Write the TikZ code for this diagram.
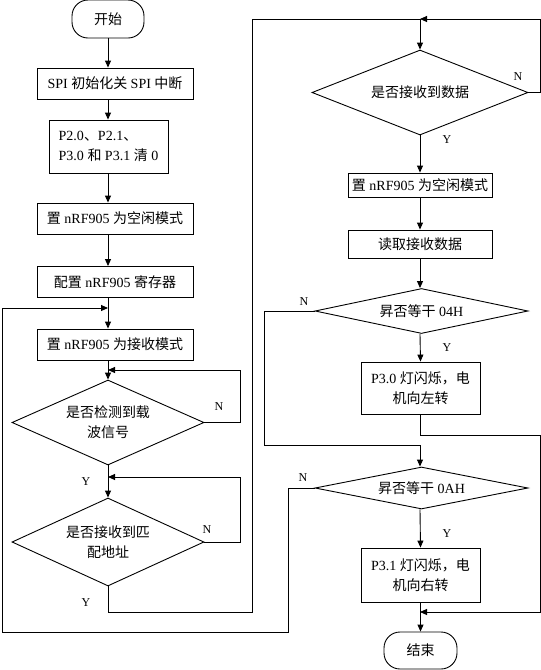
\documentclass[tikz,border=0pt]{standalone}
\usepackage{fontspec}
\setmainfont{Liberation Serif}
\newfontfamily\cjk{Noto Sans CJK SC}
\newcommand{\zh}[1]{{\cjk #1}}
\usetikzlibrary{shapes.geometric,arrows.meta}
\begin{document}
\begin{tikzpicture}[x=1pt,y=-1pt,
  line width=0.9pt,
  every node/.style={font=\fontsize{14}{20}\selectfont},
  arr/.style={-{Triangle[length=7pt,width=6pt]}},
  term/.style={draw,rounded corners=16pt,minimum width=72pt,minimum height=38pt,inner sep=0pt},
  proc/.style={draw,minimum width=156pt,minimum height=31pt,inner sep=0pt,align=center},
  dec/.style={draw,diamond,inner sep=0pt,align=center},
  lbl/.style={font=\fontsize{12}{14}\selectfont,inner sep=0pt}]
\fill[white] (0,0) rectangle (541,670);
\useasboundingbox (0,0) rectangle (541,670);

% left column
\node[term] (start) at (108,19) {\zh{开始}};
\node[proc] (b1) at (115,83.5) {SPI \zh{初始化关} SPI \zh{中断}};
\node[proc,minimum width=119pt,minimum height=53pt,align=left] (b2) at (108.5,146.5) {P2.0\zh{、}P2.1\zh{、}\\P3.0 \zh{和} P3.1 \zh{清} 0};
\node[proc] (b3) at (115,218.5) {\zh{置} nRF905 \zh{为空闲模式}};
\node[proc] (b4) at (115,282) {\zh{配置} nRF905 \zh{寄存器}};
\node[proc] (b5) at (115,344.5) {\zh{置} nRF905 \zh{为接收模式}};
\node[dec,minimum width=192pt,minimum height=85pt,aspect=2.26] (d1) at (108,422.5) {\zh{是否检测到载}\\\zh{波信号}};
\node[dec,minimum width=192pt,minimum height=88pt,aspect=2.2] (d2) at (108,542) {\zh{是否接收到匹}\\\zh{配地址}};

% right column
\node[dec,minimum width=216pt,minimum height=85pt,aspect=2.5] (d3) at (420,92.5) {\zh{是否接收到数据}};
\node[proc,minimum width=144pt,minimum height=24pt] (b6) at (420,185) {\zh{置} nRF905 \zh{为空闲模式}};
\node[proc,minimum width=144pt,minimum height=28pt] (b7) at (420,244) {\zh{读取接收数据}};
\node[dec,minimum width=213pt,minimum height=45pt,aspect=4.6] (d4) at (421.5,311) {\zh{昇否等干} 04H};
\node[proc,minimum width=119pt,minimum height=52pt] (b8) at (420.5,388) {P3.0 \zh{灯闪烁，电}\\\zh{机向左转}};
\node[dec,minimum width=213pt,minimum height=42pt,aspect=4.6] (d5) at (421.5,488) {\zh{昇否等干} 0AH};
\node[proc,minimum width=119pt,minimum height=54pt] (b9) at (420.5,575) {P3.1 \zh{灯闪烁，电}\\\zh{机向右转}};
\node[term,minimum width=73pt,minimum height=37pt] (end) at (420.5,650.5) {\zh{结束}};

% junctions
\coordinate (j1) at (108,308);
\coordinate (j2) at (108,370);
\coordinate (j2b) at (108,477);
\coordinate (j3) at (420,19);
\coordinate (j6) at (420,612);

% main column arrows
\draw[arr] (start.south) -- (start.south |- b1.north);
\draw[arr] (start.south |- b1.south) -- (b2.north -| start.south);
\draw[arr] (start.south |- b2.south) -- (b3.north -| start.south);
\draw[arr] (start.south |- b3.south) -- (b4.north -| start.south);
\draw[arr] (start.south |- b4.south) -- (b5.north -| start.south);
\draw[arr] (start.south |- b5.south) -- (d1.north);
\draw[arr] (d1.south) -- (d2.north);

% loops left column
\draw[arr] (d1.east) -- (240,422.5) |- (j2);
\draw[arr] (d2.east) -- (240,542) |- (j2b);
\draw (d2.south) |- (252,612) |- (j3);
\draw[arr] (d5.west) -| (288,632) -| (2,308) -- (j1);

% right column
\draw[arr] (d3.east) -- (540,92.5) |- (j3);
\draw[arr] (j3) -- (d3.north);
\draw[arr] (d3.south) -- (b6.north);
\draw[arr] (b6.south) -- (b7.north);
\draw[arr] (b7.south) -- (d4.north -| b7.south);
\draw[arr] (d4.south -| b7.south) -- (b8.north);
\draw[arr] (d4.west) -| (264,445) -| (d5.north -| b7.south);
\draw[arr] (b8.south) |- (540,435) |- (j6);
\draw[arr] (d5.south -| b7.south) -- (b9.north);
\draw[arr] (b9.south) -- (end.north);

% labels
\node[lbl] (n1) at (219,407) {N};
\node[lbl] (n2) at (207,530) {N};
\node[lbl] (y1) at (86,482) {Y};
\node[lbl] (y2) at (86,603) {Y};
\node[lbl] (n3) at (518,77) {N};
\node[lbl] (y3) at (447,140) {Y};
\node[lbl] (n4) at (304,302) {N};
\node[lbl] (y4) at (447,348) {Y};
\node[lbl] (n5) at (303,478) {N};
\node[lbl] (y5) at (447,534) {Y};
\end{tikzpicture}
\end{document}
